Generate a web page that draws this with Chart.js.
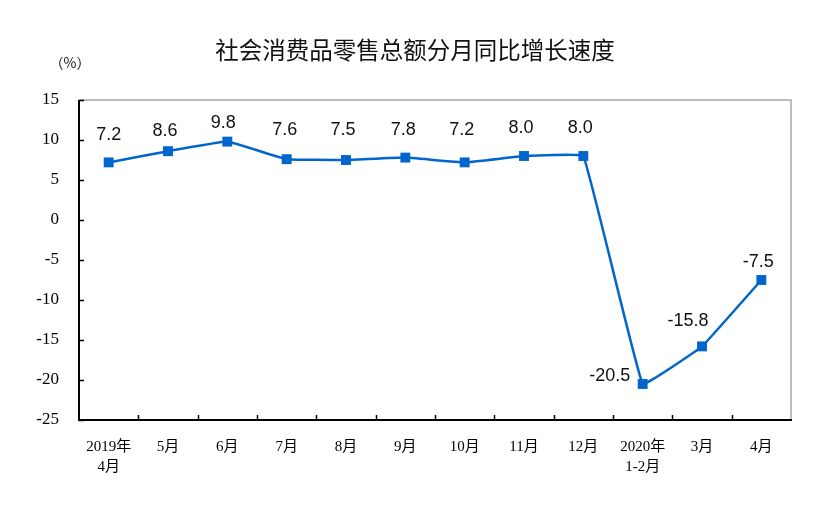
<!DOCTYPE html>
<html>
<head>
<meta charset="utf-8">
<script src="https://cdn.jsdelivr.net/npm/chart.js@4"></script>
<style>
html,body{margin:0;padding:0;background:#fff;}
canvas{display:block;}
</style>
</head>
<body>
<canvas id="c" width="833" height="510"></canvas>
<script>
const categories = [["2019年","4月"],"5月","6月","7月","8月","9月","10月","11月","12月",["2020年","1-2月"],"3月","4月"];
const values = [7.2, 8.6, 9.8, 7.6, 7.5, 7.8, 7.2, 8.0, 8.0, -20.5, -15.8, -7.5];
const valueLabels = ["7.2","8.6","9.8","7.6","7.5","7.8","7.2","8.0","8.0","-20.5","-15.8","-7.5"];
const yTicks = [15, 10, 5, 0, -5, -10, -15, -20, -25];
const titleText = "社会消费品零售总额分月同比增长速度";
const unitText = "（%）";
// label offsets (styling): [dx, dy] from point
const labelOffsets = [[0,-27],[-3,-20],[-4,-19],[-2,-29],[-3,-30],[-2,-28],[-3,-32],[-3,-28],[-3,-28],[-33,-8],[-14,-25],[-3,-18]];

const LINE = '#0066cc';

const decor = {
  id: 'decor',
  afterDraw(chart) {
    const ctx = chart.ctx;
    const a = chart.chartArea;
    const xs = chart.scales.x, ys = chart.scales.y;
    ctx.save();
    // top & right gray border
    ctx.strokeStyle = '#a6a6a6';
    ctx.lineWidth = 1.5;
    ctx.beginPath();
    ctx.moveTo(a.left, a.top);
    ctx.lineTo(a.right, a.top);
    ctx.lineTo(a.right, a.bottom);
    ctx.stroke();
    // left & bottom black axes
    ctx.strokeStyle = '#000';
    ctx.lineWidth = 2;
    ctx.beginPath();
    ctx.moveTo(a.left, a.top);
    ctx.lineTo(a.left, a.bottom);
    ctx.lineTo(a.right + 1, a.bottom);
    ctx.stroke();
    // inward y ticks
    ctx.lineWidth = 1.5;
    ctx.beginPath();
    yTicks.forEach(v => {
      const y = Math.round(ys.getPixelForValue(v)) + 0.5;
      ctx.moveTo(a.left, y);
      ctx.lineTo(a.left + 5, y);
    });
    // inward x ticks at category boundaries
    for (let i = 0; i < categories.length - 1; i++) {
      const x = (xs.getPixelForValue(i) + xs.getPixelForValue(i + 1)) / 2;
      ctx.moveTo(Math.round(x) + 0.5, a.bottom);
      ctx.lineTo(Math.round(x) + 0.5, a.bottom - 5);
    }
    ctx.stroke();
    // title
    ctx.fillStyle = '#111';
    ctx.textAlign = 'center';
    ctx.textBaseline = 'middle';
    ctx.font = '23.5px "Noto Sans CJK SC", sans-serif';
    ctx.fillText(titleText, 415, 50);
    ctx.font = '14px "Noto Sans CJK SC", sans-serif';
    ctx.fillText(unitText, 70, 63);
    // data labels
    const meta = chart.getDatasetMeta(0);
    ctx.font = '18px "Liberation Sans", Arial, sans-serif';
    ctx.fillStyle = '#111';
    meta.data.forEach((pt, i) => {
      const o = labelOffsets[i];
      ctx.fillText(valueLabels[i], pt.x + o[0], pt.y + o[1]);
    });
    ctx.restore();
  }
};

new Chart(document.getElementById('c'), {
  type: 'line',
  data: {
    labels: categories,
    datasets: [{
      data: values,
      borderColor: LINE,
      backgroundColor: LINE,
      borderWidth: 2.5,
      tension: 0.06,
      pointStyle: 'rect',
      pointRadius: 7,
      pointBackgroundColor: LINE,
      pointBorderWidth: 0,
      clip: false
    }]
  },
  options: {
    responsive: false,
    devicePixelRatio: 1,
    animation: false,
    layout: { padding: { top: 100, right: 42, left: 0, bottom: 0 } },
    plugins: { legend: { display: false }, tooltip: { enabled: false }, title: { display: false } },
    scales: {
      x: {
        type: 'category',
        offset: true,
        grid: { display: false, drawTicks: false },
        border: { display: false },
        ticks: {
          color: '#000',
          padding: 17,
          maxRotation: 0,
          autoSkip: false,
          font: { family: '"Liberation Serif", "Noto Sans CJK SC", serif', size: 15, lineHeight: 1.35 }
        },
        afterFit(s) { s.height = 90; }
      },
      y: {
        min: -25,
        max: 15,
        grid: { display: false, drawTicks: false },
        border: { display: false },
        ticks: {
          stepSize: 5,
          color: '#000',
          padding: 20,
          font: { family: '"Liberation Serif", "Times New Roman", serif', size: 17 }
        },
        afterFit(s) { s.width = 79; }
      }
    }
  },
  plugins: [decor]
});
</script>
</body>
</html>
